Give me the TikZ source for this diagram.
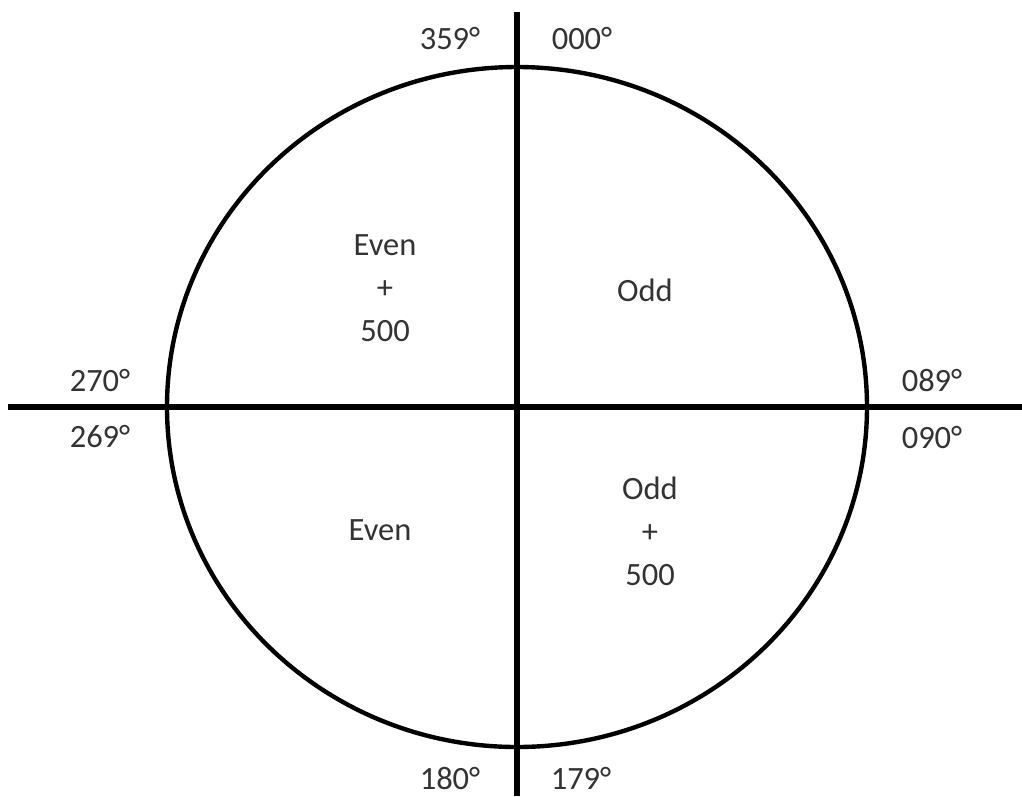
\documentclass[tikz,border=0pt]{standalone}
\usepackage{fontspec}
\setmainfont{Carlito}
\usepackage{tikz}
\usetikzlibrary{positioning}

\begin{document}
\begin{tikzpicture}[
x=0.02cm, y=-0.02cm,
every node/.style={font=\fontsize{18.5}{24.5}\selectfont, text=black!80, align=center, inner sep=0pt},
axis/.style={line width=3.1pt},
ring/.style={line width=2.5pt}
]
\useasboundingbox (0,0) rectangle (1022,796);

% axes
\coordinate (C) at (517,407);
\coordinate (N) at (517,12);
\coordinate (S) at (517,796);
\coordinate (W) at (8,407);
\coordinate (E) at (1022,407);

\draw[ring] (C) ellipse [x radius=350, y radius=340];
\draw[axis] (N) -- (S);
\draw[axis] (W) -- (E);

% bearings
\node (b359) at (450,38) {359°};
\node (b000) at (582,38) {000°};
\node (b180) at (450,778) {180°};
\node (b179) at (581,778) {179°};
\node (b270) at (100,380) {270°};
\node (b269) at (100,436) {269°};
\node (b089) at (932,380) {089°};
\node (b090) at (932,437) {090°};

% quadrants
\node (nw) at (385,288) {Even\\+\\500};
\node (ne) at (645,290) {Odd};
\node (sw) at (380,530) {Even};
\node (se) at (650,531) {Odd\\+\\500};

\end{tikzpicture}
\end{document}
